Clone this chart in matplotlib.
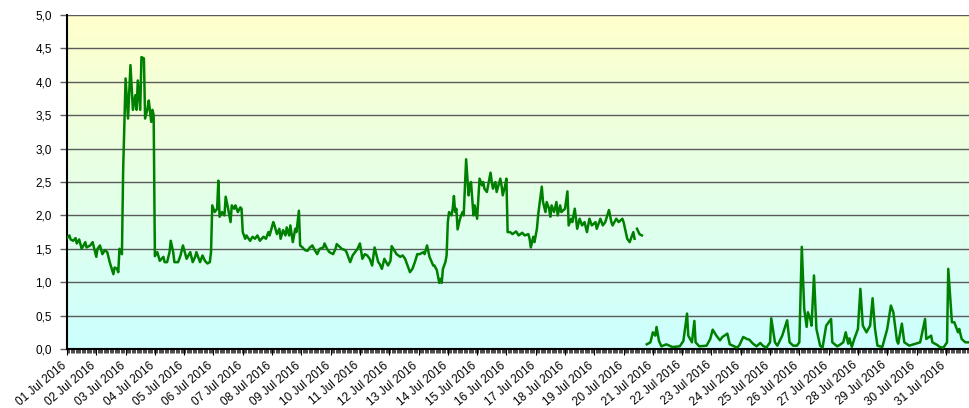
import numpy as np
import matplotlib
matplotlib.use('Agg')
import matplotlib.pyplot as plt
import matplotlib.transforms as mtransforms
from matplotlib.colors import LinearSegmentedColormap

plt.rcParams['font.family'] = ['Liberation Sans', 'DejaVu Sans']

nan = float('nan')

# hours since 01 Jul 2016 00:00
hours = [0, 2, 3, 5, 7, 8, 10, 12, 15, 16, 19, 21, 24, 25, 27, 29, 31, 33, 35, 38,
         39, 41, 42, 43, 45, 46, 48, 50, 52, 54, 56, 57, 58, 60, 61, 63, 64, 66, 67, 69,
         70, 71, 72, 74, 76, 79, 80, 82, 84, 85, 87, 88, 91, 93, 95, 97, 98, 101, 103, 105,
         106, 109, 111, 113, 115, 117, 118, 119, 121, 123, 124, 125, 127, 129, 130, 132, 134, 135, 137, 138,
         140, 142, 143, 144, 146, 147, 150, 152, 154, 156, 158, 161, 163, 165, 166, 169, 170, 172, 174, 175,
         177, 179, 180, 182, 183, 185, 187, 188, 190, 191, 193, 195, 197, 199, 201, 203, 205, 207, 210, 211,
         213, 215, 218, 220, 221, 224, 225, 228, 229, 232, 234, 236, 238, 240, 242, 244, 246, 248, 250, 252,
         255, 256, 258, 260, 263, 265, 266, 269, 270, 273, 275, 277, 279, 281, 283, 285, 287, 289, 292, 293,
         295, 297, 300, 301, 303, 305, 306, 307, 308, 310, 311, 312, 313, 315, 316, 317, 318, 319, 320, 322,
         324, 325, 327, 329, 330, 331, 333, 334, 336, 338, 340, 341, 342, 344, 347, 348, 349, 351, 352, 355,
         356, 357, 359, 360, 361, 363, 365, 368, 370, 373, 375, 378, 379, 380, 382, 383, 385, 386, 387, 389,
         390, 392, 393, 395, 396, 397, 399, 401, 402, 404, 405, 408, 410, 411, 413, 414, 416, 418, 420, 422,
         424, 426, 428, 430, 433, 434, 437, 439, 441, 444, 446, 447, 450, 452, 455, 456, 459, 461, 464, 465,
         466, 467, 469, 471, 473,
         475, 478, 480, 482, 483, 485, 487, 491, 496, 502, 505, 508, 509, 512, 514, 515, 518, 524, 527, 529,
         532, 535, 537, 541, 543, 549, 551, 554, 557, 559, 562, 565, 568, 570, 573, 576, 577, 580, 582, 586,
         590, 592, 595, 598, 600, 602, 604, 606, 607, 609, 610, 612, 614, 617, 619, 622, 626, 627, 631, 633,
         636, 638, 640, 641, 643, 645, 648, 650, 652, 655, 658, 660, 662, 664, 668, 672, 675, 677, 680, 681,
         684, 686, 690, 699, 703, 704, 708, 709, 713, 715, 718, 721, 722, 725, 727, 730, 731, 733, 736, 738]

values = [1.66, 1.70, 1.64, 1.62, 1.66, 1.58, 1.64, 1.50, 1.60, 1.52, 1.55, 1.60, 1.38, 1.50, 1.55, 1.42, 1.48, 1.45, 1.30, 1.12,
          1.22, 1.20, 1.15, 1.50, 1.42, 2.67, 4.05, 3.45, 4.25, 3.58, 3.80, 3.58, 4.02, 3.58, 4.37, 4.35, 3.45, 3.60, 3.72, 3.40,
          3.58, 3.50, 1.39, 1.45, 1.32, 1.38, 1.30, 1.30, 1.45, 1.62, 1.45, 1.30, 1.30, 1.40, 1.55, 1.42, 1.35, 1.45, 1.30, 1.38,
          1.45, 1.30, 1.40, 1.32, 1.28, 1.30, 1.45, 2.15, 2.05, 2.10, 2.52, 1.98, 2.05, 2.00, 2.28, 2.10, 1.90, 2.15, 2.10, 2.15,
          2.05, 2.12, 2.10, 1.75, 1.65, 1.70, 1.62, 1.68, 1.65, 1.70, 1.62, 1.68, 1.65, 1.75, 1.70, 1.90, 1.85, 1.72, 1.80, 1.65,
          1.78, 1.70, 1.82, 1.70, 1.85, 1.60, 1.80, 1.75, 2.07, 1.55, 1.52, 1.48, 1.47, 1.52, 1.55, 1.48, 1.42, 1.50, 1.52, 1.58,
          1.50, 1.45, 1.42, 1.50, 1.57, 1.52, 1.50, 1.48, 1.45, 1.30, 1.40, 1.45, 1.50, 1.58, 1.35, 1.42, 1.40, 1.35, 1.25, 1.52,
          1.30, 1.28, 1.20, 1.35, 1.25, 1.32, 1.54, 1.45, 1.42, 1.38, 1.40, 1.35, 1.25, 1.15, 1.20, 1.30, 1.42, 1.42, 1.45, 1.42,
          1.55, 1.38, 1.25, 1.25, 1.18, 0.99, 1.05, 0.99, 1.20, 1.30, 1.40, 1.90, 2.05, 2.00, 2.10, 2.29, 2.05, 2.10, 1.79, 1.95,
          2.05, 2.00, 2.84, 2.30, 2.45, 2.50, 2.00, 2.15, 1.95, 2.55, 2.45, 2.50, 2.40, 2.35, 2.64, 2.50, 2.40, 2.50, 2.35, 2.55,
          2.45, 2.30, 2.45, 2.55, 1.75, 1.75, 1.72, 1.76, 1.70, 1.74, 1.70, 1.72, 1.65, 1.52, 1.68, 1.60, 1.80, 2.00, 2.15, 2.43,
          2.20, 2.05, 2.20, 2.10, 1.98, 2.15, 2.05, 2.20, 2.00, 2.15, 2.05, 2.10, 2.36, 1.85, 1.95, 1.90, 2.10, 1.80, 1.95, 1.85,
          1.90, 1.75, 1.95, 1.85, 1.90, 1.80, 1.95, 1.85, 1.90, 2.08, 1.90, 1.85, 1.95, 1.90, 1.95, 1.90, 1.65, 1.60, 1.75, 1.65,
          nan, 1.80, 1.72, 1.70, nan,
          0.07, 0.10, 0.25, 0.20, 0.33, 0.12, 0.04, 0.07, 0.03, 0.04, 0.12, 0.53, 0.20, 0.10, 0.42, 0.10, 0.04, 0.05, 0.15, 0.29,
          0.20, 0.13, 0.18, 0.23, 0.07, 0.02, 0.06, 0.18, 0.15, 0.14, 0.08, 0.04, 0.09, 0.05, 0.02, 0.10, 0.46, 0.10, 0.05, 0.20,
          0.43, 0.10, 0.05, 0.05, 0.10, 1.53, 0.60, 0.33, 0.55, 0.45, 0.35, 1.10, 0.30, 0.05, 0.02, 0.35, 0.45, 0.10, 0.04, 0.06,
          0.10, 0.25, 0.08, 0.16, 0.03, 0.15, 0.30, 0.90, 0.35, 0.25, 0.35, 0.76, 0.30, 0.05, 0.03, 0.30, 0.65, 0.55, 0.12, 0.08,
          0.38, 0.10, 0.05, 0.10, 0.45, 0.15, 0.20, 0.10, 0.06, 0.03, 0.02, 0.10, 1.20, 0.40, 0.40, 0.25, 0.30, 0.15, 0.10, 0.10]

day_labels = ['%02d Jul 2016' % d for d in range(1, 32)]
y_ticks = [0, 0.5, 1.0, 1.5, 2.0, 2.5, 3.0, 3.5, 4.0, 4.5, 5.0]

fig = plt.figure(figsize=(9.69, 4.08), dpi=100)
ax = fig.add_axes([67 / 969, 1 - 349 / 408, 1 - 67 / 969, 334 / 408])

xmax = 739
# background gradient, cyan at the bottom, yellow on top
grad = np.linspace(0, 1, 256).reshape(-1, 1)
cmap = LinearSegmentedColormap.from_list('bg', ['#ccffff', '#e6ffe6', '#ffffcc'])
ax.imshow(grad, extent=[0, xmax, 0, 5], origin='lower', aspect='auto', cmap=cmap, zorder=0)

ax.plot(hours, values, color='#008000', lw=1.8, zorder=3)

ax.set_xlim(0, xmax)
ax.set_ylim(0, 5)
ax.set_yticks(y_ticks)
ax.set_yticklabels([('%.1f' % v).replace('.', ',') for v in y_ticks], fontsize=8.5)
ax.yaxis.grid(True, color='#5a5a5a', lw=1)
ax.tick_params(axis='y', length=5, width=1, color='#606060', pad=6)

ax.set_xticks(range(0, 744, 24))
ax.set_xticklabels(day_labels, rotation=40, ha='right', rotation_mode='anchor', fontsize=8.5)
ax.set_xticks(range(0, xmax, 1), minor=True)
ax.tick_params(axis='x', which='major', length=4, width=0.8, pad=2)
ax.tick_params(axis='x', which='minor', length=3, width=0.5)

# move the date labels a bit to the left, like the original
shift = mtransforms.ScaledTranslation(-6 / 100, -2 / 100, fig.dpi_scale_trans)
for lab in ax.get_xticklabels():
    lab.set_transform(lab.get_transform() + shift)

for s in ['top', 'right']:
    ax.spines[s].set_visible(False)
ax.spines['left'].set_linewidth(1.5)
ax.spines['bottom'].set_linewidth(1.5)

fig.savefig('out.png', dpi=100)
